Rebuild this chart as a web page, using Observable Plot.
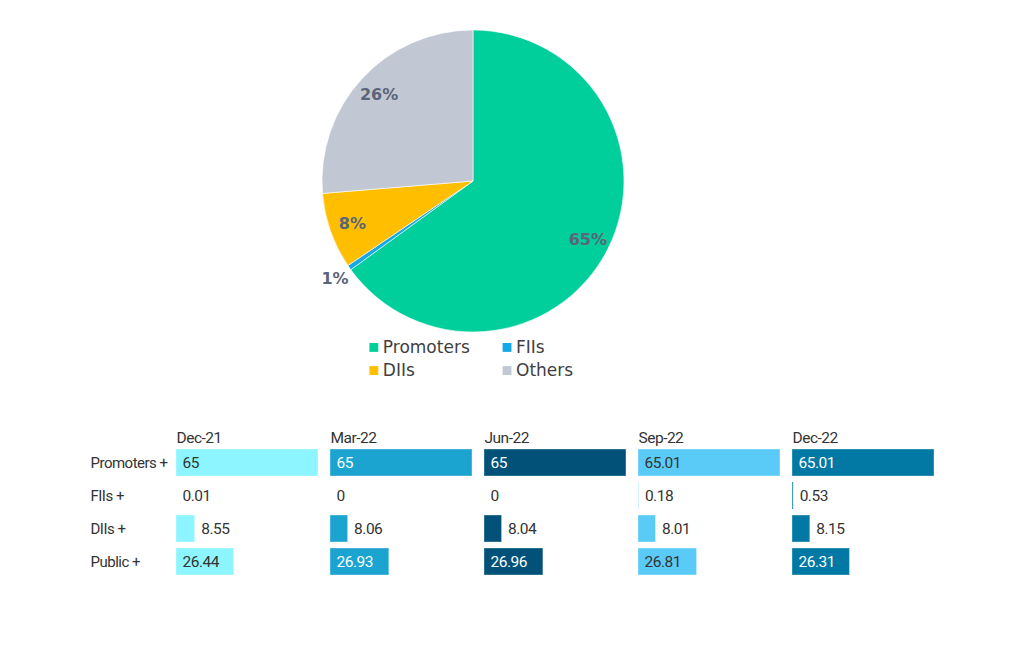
<!DOCTYPE html>
<html>
<head>
<meta charset="utf-8">
<script src="https://cdn.jsdelivr.net/npm/d3@7"></script>
<script src="https://cdn.jsdelivr.net/npm/@observablehq/plot@0.6"></script>
<style>
  html, body { margin: 0; padding: 0; background: #ffffff; }
  #chart { width: 1024px; height: 650px; }
  #chart svg { display: block; }
  #chart svg.bars text { font-family: Roboto, sans-serif; letter-spacing: -0.5px; }
</style>
</head>
<body>
<div id="chart"></div>
<script>
// ---------- Data ----------
const pieHolders = ["Promoters", "FIIs", "DIIs", "Others"];
const pieValues = [65.01, 0.53, 8.15, 26.31];
const pieColors = ["#00ce9b", "#14a9e6", "#ffbf00", "#c1c8d3"];

const quarters = ["Dec-21", "Mar-22", "Jun-22", "Sep-22", "Dec-22"];
const holders = ["Promoters +", "FIIs +", "DIIs +", "Public +"];
const valsDec21 = [65, 0.01, 8.55, 26.44];
const valsMar22 = [65, 0, 8.06, 26.93];
const valsJun22 = [65, 0, 8.04, 26.96];
const valsSep22 = [65.01, 0.18, 8.01, 26.81];
const valsDec22 = [65.01, 0.53, 8.15, 26.31];
const quarterColors = ["#8cf5ff", "#1ba4d0", "#015178", "#5acbf7", "#0179a4"];
const quarterTextColors = ["#333333", "#ffffff", "#ffffff", "#333333", "#ffffff"];

// ---------- Pie ----------
const pieData = pieHolders.map((name, i) => ({name, value: pieValues[i]}));
const arcs = d3.pie().sort(null).value(d => d.value)(pieData);
const labelData = arcs.map(a => {
  const mid = (a.startAngle + a.endAngle) / 2;
  const inside = a.data.value >= 3;
  const k = inside ? 0.85 : 1.12;
  return {name: a.data.name, text: Math.round(a.data.value) + "%", x: Math.sin(mid) * k, y: Math.cos(mid) * k};
});
const legendData = [
  {name: "Promoters", col: -0.66, row: -1.099},
  {name: "FIIs", col: 0.222, row: -1.099},
  {name: "DIIs", col: -0.66, row: -1.252},
  {name: "Others", col: 0.222, row: -1.252}
];

function pieSlices(index, scales) {
  const cx = scales.x(0), cy = scales.y(0);
  const r = scales.x(1) - scales.x(0);
  const arc = d3.arc().innerRadius(0).outerRadius(r);
  const g = d3.create("svg:g").attr("transform", `translate(${cx},${cy})`);
  g.selectAll("path").data(arcs).join("path")
    .attr("d", arc)
    .attr("fill", d => scales.color(d.data.name))
    .attr("stroke", "#ffffff")
    .attr("stroke-width", 0.6);
  return g.node();
}

const pie = Plot.plot({
  width: 1024,
  height: 395,
  margin: 0,
  x: {domain: [-1, 1], range: [322, 624], axis: null},
  y: {domain: [-1, 1], range: [332, 30], axis: null},
  color: {domain: pieHolders, range: pieColors},
  style: {background: "transparent"},
  marks: [
    pieSlices,
    Plot.text(labelData, {
      x: "x", y: "y", text: "text",
      fill: "#5b6579", fontSize: 16, fontWeight: "bold",
      fontFamily: "DejaVu Sans"
    }),
    Plot.dot(legendData, {x: "col", y: "row", fill: "name", symbol: "square", r: 5, stroke: null}),
    Plot.text(legendData, {
      x: "col", y: "row", text: "name", dx: 9, textAnchor: "start",
      fill: "#3f3f3f", fontSize: 17, fontFamily: "DejaVu Sans"
    })
  ]
});

// ---------- Bars ----------
const allVals = [valsDec21, valsMar22, valsJun22, valsSep22, valsDec22];
const barData = [];
quarters.forEach((q, qi) => {
  holders.forEach((h, hi) => {
    barData.push({quarter: q, holder: h, value: allVals[qi][hi], qi});
  });
});
const insideData = barData.filter(d => d.value >= 20);
const outsideData = barData.filter(d => d.value < 20);

const bars = Plot.plot({
  className: "bars",
  width: 1024,
  height: 255,
  marginTop: 46,
  marginBottom: 67,
  marginLeft: 176,
  marginRight: 90,
  fx: {domain: quarters, paddingInner: 12 / 154, paddingOuter: 0, axis: null},
  x: {domain: [0, 65.01], axis: null},
  y: {domain: holders, padding: 0.18, axis: null},
  color: {domain: quarters, range: quarterColors},
  style: {fontSize: "15px", color: "#333333", background: "transparent"},
  marks: [
    Plot.axisY({tickSize: 0, tickPadding: 86, textAnchor: "start", label: null, fontSize: 15, fill: "#333333"}),
    Plot.barX(barData, {
      fx: "quarter", y: "holder", x: "value", fill: "quarter",
      stroke: "#ffffff", strokeOpacity: 0.35, strokeWidth: 1
    }),
    Plot.text(insideData, {
      fx: "quarter", y: "holder", x: 0, dx: 6, textAnchor: "start",
      text: d => String(d.value), fill: d => quarterTextColors[d.qi],
      fontSize: 15.5
    }),
    Plot.text(outsideData, {
      fx: "quarter", y: "holder", x: "value", dx: 6, textAnchor: "start",
      text: d => String(d.value), fill: "#333333",
      fontSize: 15.5
    }),
    Plot.text(quarters, {
      fx: d => d, text: d => d, frameAnchor: "top-left", dy: -10,
      textAnchor: "start", fill: "#333333", fontSize: 15.5
    })
  ]
});

const chart = document.getElementById("chart");
chart.appendChild(pie);
chart.appendChild(bars);
</script>
</body>
</html>
